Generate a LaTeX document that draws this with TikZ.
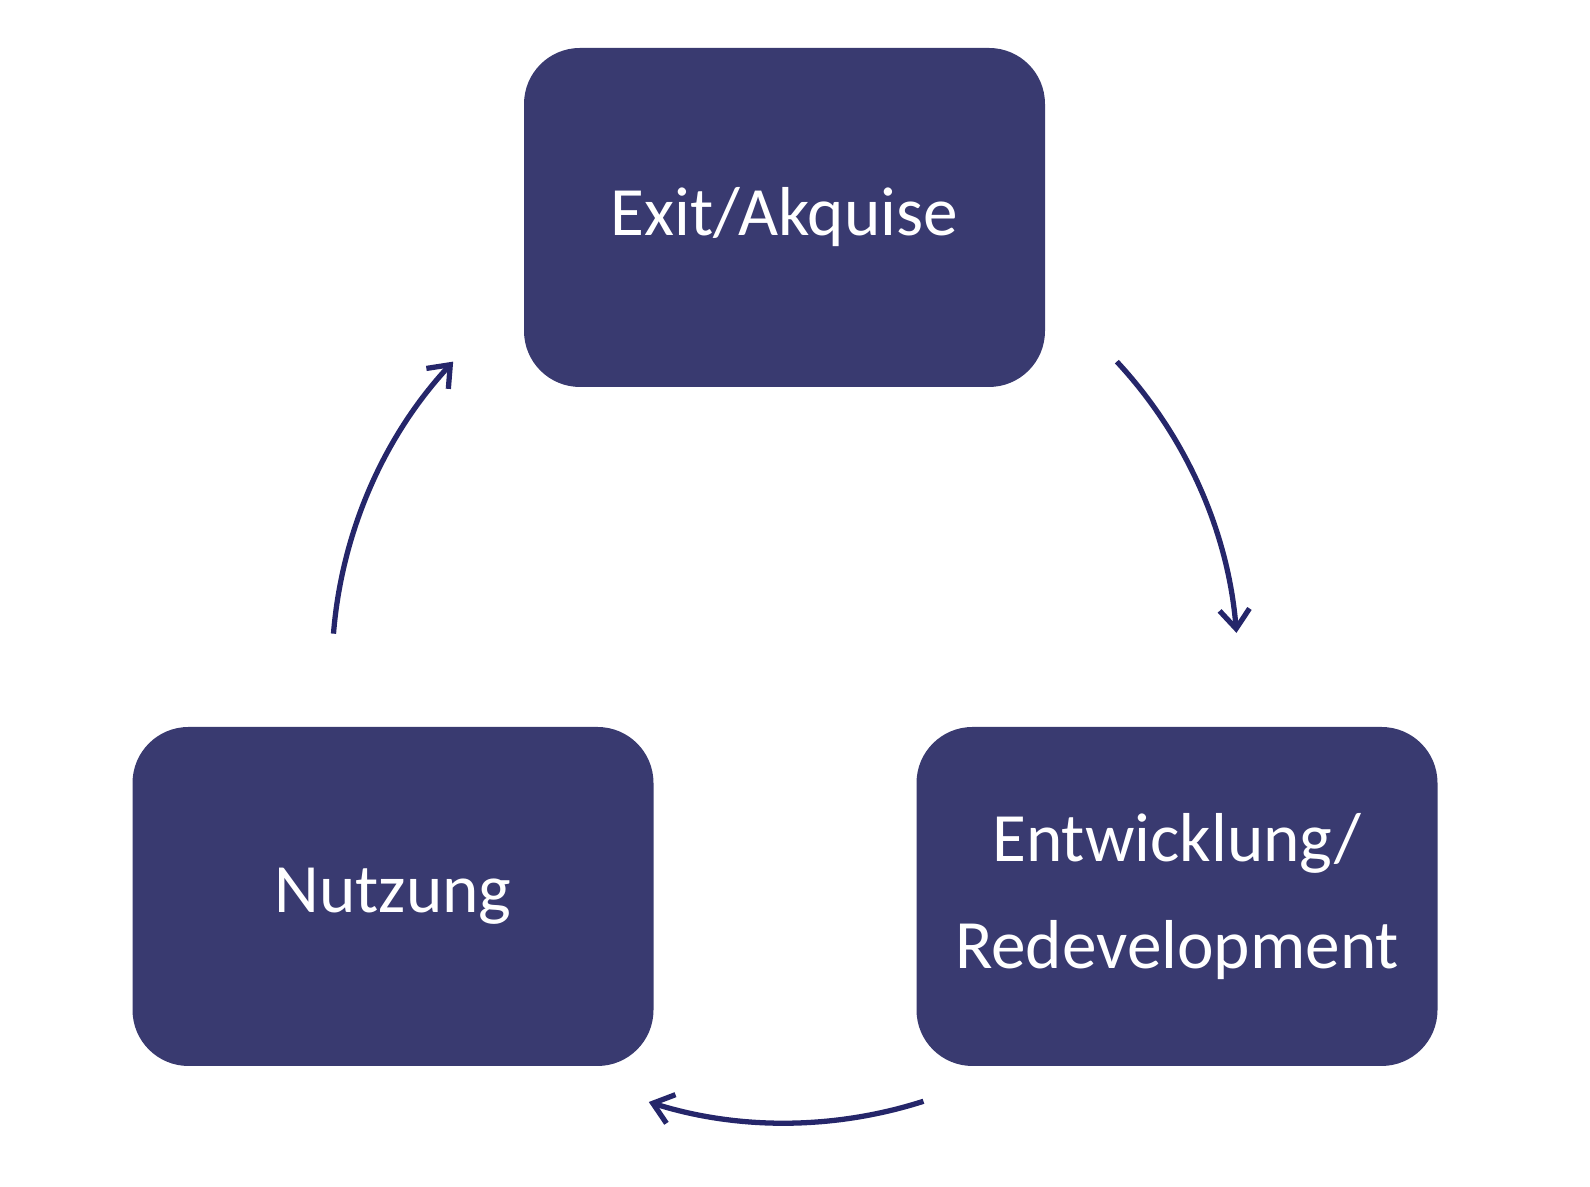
\documentclass[tikz,border=0pt]{standalone}
\usepackage{fontspec}
\setmainfont{Carlito}
\usepackage{xcolor}
\usepackage{tikz}
\usetikzlibrary{positioning, arrows.meta}
\definecolor{boxblue}{RGB}{57, 58, 112}
\definecolor{arrowblue}{RGB}{37, 38, 106}
\newcommand{\cyclearc}[2]{
\draw[cyclearrow] (mid) ++(#1:9.06) arc[start angle=#1, end angle=#2, radius=9.06];
}

\begin{document}
\begin{tikzpicture}[
    phase/.style={draw=none, fill=boxblue, rounded corners=1.12cm,
        minimum width=10.42cm, minimum height=6.78cm,
        text=white, align=center, font=\fontsize{39.4}{60.5}\selectfont},
    cyclearrow/.style={arrowblue, line width=3pt,
        -{Straight Barb[length=0.38cm, width=0.6cm, line width=3pt]}}
]
    \useasboundingbox (0,0) rectangle (31.8,23.74);
    \coordinate (mid) at (15.7,10.34);
    \node[phase] (exit) at (15.69,19.39) {Exit/Akquise};
    \node[phase] (dev) at (23.54,5.81) {Entwicklung/\\Redevelopment};
    \node[phase] (use) at (7.86,5.81) {Nutzung};
    \cyclearc{42.9}{4.7}
    \cyclearc{-72.2}{-107.5}
    \cyclearc{175.4}{137.1}
\end{tikzpicture}
\end{document}
